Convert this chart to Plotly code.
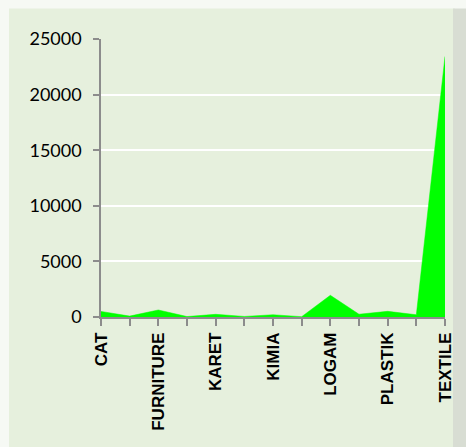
import plotly.graph_objects as go

# Data
tick_labels = ["CAT", "", "FURNITURE", "", "KARET", "", "KIMIA", "", "LOGAM", "", "PLASTIK", "", "TEXTILE"]
values = [500, 80, 630, 40, 240, 50, 200, 30, 1950, 250, 510, 200, 23430]
positions = list(range(len(values)))
y_ticks = [0, 5000, 10000, 15000, 20000, 25000]
y_tick_text = ["0", "5000", "10000", "15000", "20000", "25000"]

W, H = 466, 447
fig = go.Figure()
fig.add_trace(go.Scatter(
    x=positions, y=values, mode="lines", fill="tozeroy",
    line=dict(color="#00ff00", width=0.5), fillcolor="#00ff00",
    hoverinfo="skip", showlegend=False,
))

# background panel
fig.add_shape(type="rect", xref="paper", yref="paper",
              x0=(9 - 101) / 344, x1=(455 - 101) / 344,
              y0=-130 / 277.5, y1=(447 - 9 - 130) / 277.5,
              fillcolor="#e6f0dd", line=dict(width=0), layer="below")
fig.add_shape(type="rect", xref="paper", yref="paper",
              x0=(453 - 101) / 344, x1=(466 - 101) / 344,
              y0=-130 / 277.5, y1=(447 - 9 - 130) / 277.5,
              fillcolor="#d8ddd3", line=dict(width=0), layer="below")

fig.update_layout(
    width=W, height=H,
    margin=dict(l=101, r=21, t=39, b=130),
    paper_bgcolor="#f6f9f4", plot_bgcolor="rgba(0,0,0,0)",
    xaxis=dict(
        range=[0, 12], tickmode="array", tickvals=positions, ticktext=tick_labels,
        tickangle=-90, showgrid=False, zeroline=False, automargin=False,
        showline=True, linecolor="#8c8c8c", linewidth=1.5,
        ticks="outside", ticklen=7, tickcolor="#8c8c8c", tickwidth=1.5,
        tickfont=dict(family="Liberation Sans", size=17, color="#000000", weight="bold"),
    ),
    yaxis=dict(
        range=[0, 25000], tickmode="array", tickvals=y_ticks, ticktext=y_tick_text,
        showgrid=True, gridcolor="#ffffff", gridwidth=1.5, zeroline=False, automargin=False,
        showline=True, linecolor="#8c8c8c", linewidth=1.5,
        ticks="outside", ticklen=6, tickcolor="#8c8c8c", tickwidth=1.5,
        ticklabelstandoff=8,
        tickfont=dict(family="Lato", size=18, color="#000000"),
    ),
)
fig.write_html("out.html", config={"displayModeBar": False},
               post_script="document.body.style.margin='0';")
